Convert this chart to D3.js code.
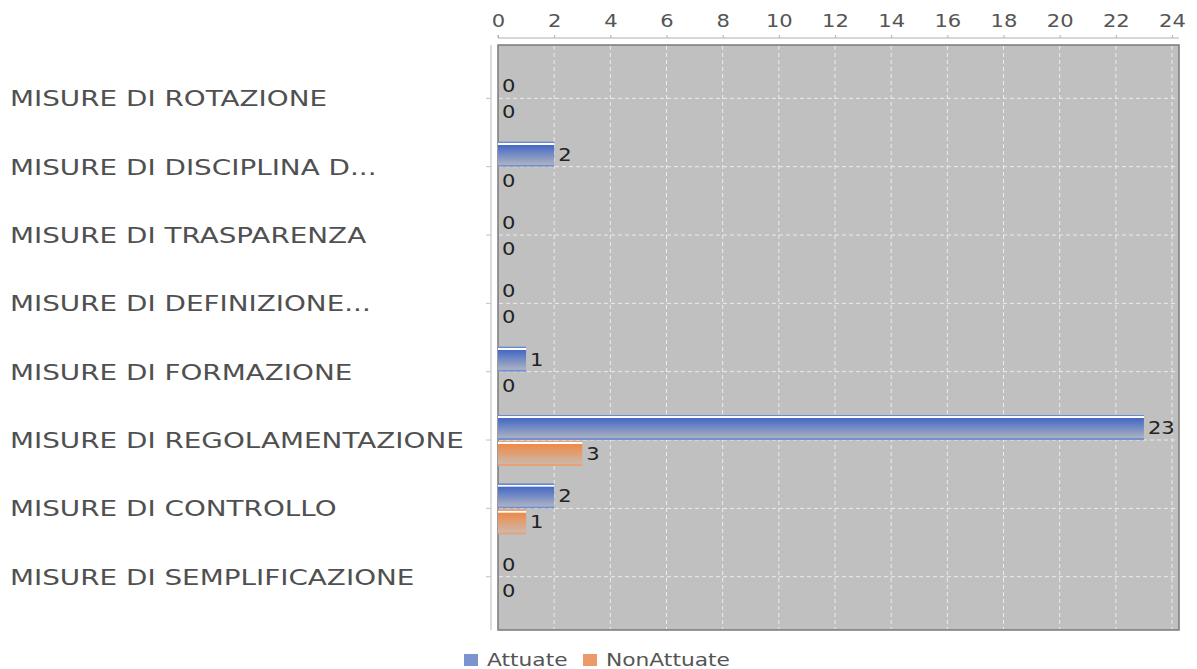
<!DOCTYPE html>
<html>
<head>
<meta charset="utf-8">
<script src="https://cdn.jsdelivr.net/npm/d3@7"></script>
<style>
  body { margin: 0; background: #fff; }
  svg text { font-family: "DejaVu Sans", sans-serif; }
</style>
</head>
<body>
<div id="chart"></div>
<script>
const categories = [
  "MISURE DI ROTAZIONE",
  "MISURE DI DISCIPLINA D...",
  "MISURE DI TRASPARENZA",
  "MISURE DI DEFINIZIONE...",
  "MISURE DI FORMAZIONE",
  "MISURE DI REGOLAMENTAZIONE",
  "MISURE DI CONTROLLO",
  "MISURE DI SEMPLIFICAZIONE"
];
const attuate = [0, 2, 0, 0, 1, 23, 2, 0];
const nonAttuate = [0, 0, 0, 0, 0, 3, 1, 0];
const seriesNames = ["Attuate", "NonAttuate"];
const xTicks = [0, 2, 4, 6, 8, 10, 12, 14, 16, 18, 20, 22, 24];

const width = 1197, height = 669;
const plotL = 498, plotR = 1179, plotT = 45, plotB = 630;

const svg = d3.select("#chart").append("svg")
  .attr("width", width)
  .attr("height", height);

const defs = svg.append("defs");
function grad(id, stops) {
  const g = defs.append("linearGradient").attr("id", id)
    .attr("x1", 0).attr("y1", 0).attr("x2", 0).attr("y2", 1);
  stops.forEach(s => g.append("stop").attr("offset", s[0]).attr("stop-color", s[1]));
}
grad("gBlue", [["0%", "#6a88d2"], ["5%", "#6a88d2"], ["6%", "#ffffff"], ["12%", "#ffffff"], ["14%", "#4468c6"],
  ["88%", "#a6aec2"], ["92%", "#a6aec2"], ["94%", "#7590d0"], ["100%", "#7590d0"]]);
grad("gOrange", [["0%", "#f0a070"], ["5%", "#f0a070"], ["6%", "#ffffff"], ["12%", "#ffffff"], ["14%", "#ee8a48"],
  ["88%", "#cfb6a6"], ["92%", "#cfb6a6"], ["94%", "#e9a078"], ["100%", "#e9a078"]]);

const x = d3.scaleLinear().domain([0, 24]).range([plotL, 1172]);
const y = d3.scalePoint().domain(categories).range([plotT, plotB]).padding(0.78);
const barH = 25;

// plot background
svg.append("rect")
  .attr("x", plotL).attr("y", plotT)
  .attr("width", plotR - plotL).attr("height", plotB - plotT)
  .attr("fill", "#c0c0c0")
  .attr("stroke", "#7a7a7a").attr("stroke-width", 1.5);

// grid
svg.append("g").selectAll("line")
  .data(xTicks.filter(d => d > 0))
  .join("line")
  .attr("x1", d => x(d)).attr("x2", d => x(d))
  .attr("y1", plotT + 1).attr("y2", plotB - 1)
  .attr("stroke", "#ececec").attr("stroke-dasharray", "4,3");
svg.append("g").selectAll("line")
  .data(categories)
  .join("line")
  .attr("x1", plotL + 1).attr("x2", plotR - 1)
  .attr("y1", d => y(d)).attr("y2", d => y(d))
  .attr("stroke", "#ececec").attr("stroke-dasharray", "4,3");

// top axis
const xAxis = svg.append("g")
  .attr("transform", "translate(0,38)")
  .call(d3.axisTop(x).tickValues(xTicks).tickSize(3).tickPadding(8));
xAxis.select(".domain").attr("stroke", "#b0b0b0").attr("d", `M${plotL},-3V0H${plotR}`);
xAxis.selectAll(".tick line").attr("stroke", "#b0b0b0");
xAxis.selectAll(".tick text")
  .attr("fill", "#555")
  .style("font-size", "18px")
  .attr("transform", "scale(1.17,1)");

// left axis line
svg.append("line")
  .attr("x1", 491).attr("x2", 491).attr("y1", plotT).attr("y2", plotB)
  .attr("stroke", "#d0d0d0").attr("stroke-width", 1.5);
svg.append("g").selectAll("line")
  .data(categories)
  .join("line")
  .attr("x1", 486).attr("x2", 491)
  .attr("y1", d => y(d)).attr("y2", d => y(d))
  .attr("stroke", "#c0c0c0");

// category labels
svg.append("g").selectAll("text")
  .data(categories)
  .join("text")
  .attr("transform", d => `translate(10,${y(d)}) scale(1.265,1)`)
  .attr("dy", "0.36em")
  .attr("fill", "#505050")
  .style("font-size", "22px")
  .text(d => d);

// bars
const series = [
  { name: seriesNames[0], values: attuate, fill: "url(#gBlue)", off: -barH },
  { name: seriesNames[1], values: nonAttuate, fill: "url(#gOrange)", off: 1 }
];
series.forEach(s => {
  const g = svg.append("g");
  g.selectAll("rect")
    .data(categories.map((c, i) => ({ c, v: s.values[i] })))
    .join("rect")
    .attr("x", x(0))
    .attr("y", d => y(d.c) + s.off)
    .attr("width", d => x(d.v) - x(0))
    .attr("height", barH)
    .attr("fill", s.fill);
  g.selectAll("text")
    .data(categories.map((c, i) => ({ c, v: s.values[i] })))
    .join("text")
    .attr("transform", d => `translate(${x(d.v) + 4},${y(d.c) + s.off + barH / 2}) scale(1.17,1)`)
    .attr("dy", "0.36em")
    .attr("fill", "#222")
    .style("font-size", "18px")
    .text(d => d.v);
});

// legend
const legend = svg.append("g");
const legendItems = [
  { name: seriesNames[0], color: "#7b94cf", x: 464 },
  { name: seriesNames[1], color: "#ec9a68", x: 583 }
];
legendItems.forEach(l => {
  legend.append("rect")
    .attr("x", l.x).attr("y", 654)
    .attr("width", 14).attr("height", 12)
    .attr("fill", l.color);
  legend.append("text")
    .attr("transform", `translate(${l.x + 23},660) scale(1.28,1)`)
    .attr("dy", "0.36em")
    .attr("fill", "#555")
    .style("font-size", "17px")
    .text(l.name);
});
</script>
</body>
</html>
